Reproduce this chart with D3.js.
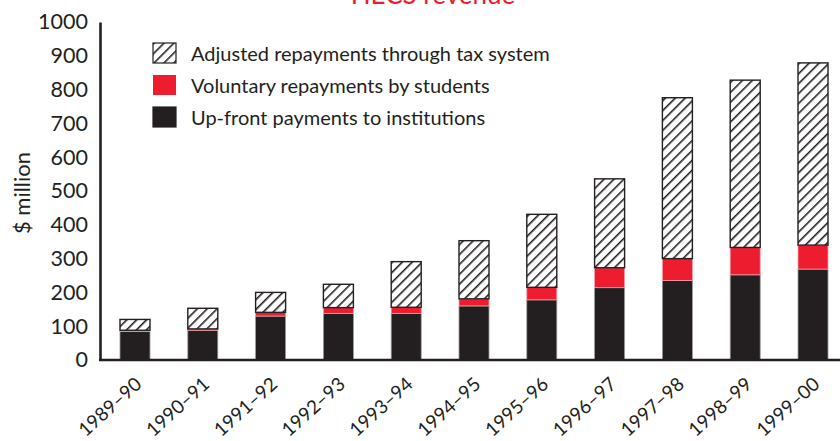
<!DOCTYPE html>
<html>

<head>
  <title>HECS repayments</title>
</head>

<body>

  <svg id="svg" width="840" height="441"></svg>

  <script src="https://d3js.org/d3.v7.min.js"></script>
  <script>
    const years = ['1989–90', '1990–91', '1991–92', '1992–93', '1993–94', '1994–95',
      '1995–96', '1996–97', '1997–98', '1998–99', '1999–00']
    // $ million
    const upfront = [84, 88, 130, 138, 138, 160, 178, 214, 235, 252, 269]
    const voluntary = [4, 4, 11, 17, 18, 21, 37, 59, 65, 81, 71]
    const taxSystem = [32, 61, 59, 69, 135, 172, 216, 263, 476, 495, 539]
    const yTicks = [0, 100, 200, 300, 400, 500, 600, 700, 800, 900, 1000]
    const legendLabels = ['Adjusted repayments through tax system',
      'Voluntary repayments by students', 'Up-front payments to institutions']

    const ink = '#231f20'
    const red = '#ed1c2e'

    const svg = d3.select('#svg')
    const font = 'Lato, "Open Sans", sans-serif'

    // hatch pattern
    const defs = svg.append('defs')
    const pat = defs.append('pattern')
      .attr('id', 'hatch')
      .attr('patternUnits', 'userSpaceOnUse')
      .attr('width', 7).attr('height', 7)
      .attr('patternTransform', 'rotate(45)')
    pat.append('rect').attr('width', 7).attr('height', 7).attr('fill', 'white')
    pat.append('line')
      .attr('x1', 0).attr('y1', 0).attr('x2', 0).attr('y2', 7)
      .attr('stroke', ink).attr('stroke-width', 3.2)

    const data = years.map((y, i) => ({
      year: y, upfront: upfront[i], voluntary: voluntary[i], tax: taxSystem[i]
    }))
    const keys = ['upfront', 'voluntary', 'tax']
    const fills = { upfront: ink, voluntary: red, tax: 'url(#hatch)' }
    const strokes = { upfront: '#9a9a9a', voluntary: '#f5a0a8', tax: ink }

    const x = d3.scaleBand()
      .domain(years)
      .range([120, 828])
      .paddingInner(0.5575)
      .paddingOuter(0)

    const y = d3.scaleLinear()
      .domain([0, 1000])
      .range([360, 22])

    const stacked = d3.stack().keys(keys)(data)

    svg.append('g')
      .selectAll('g')
      .data(stacked)
      .join('g')
      .attr('fill', d => fills[d.key])
      .attr('stroke', d => strokes[d.key])
      .attr('stroke-width', d => d.key === 'tax' ? 1.4 : 0.8)
      .selectAll('rect')
      .data(d => d)
      .join('rect')
      .attr('x', d => x(d.data.year))
      .attr('width', x.bandwidth())
      .attr('y', d => y(d[1]))
      .attr('height', d => y(d[0]) - y(d[1]))

    // axes
    const yAxis = svg.append('g')
      .attr('transform', 'translate(100,0)')
      .call(d3.axisLeft(y).tickValues(yTicks).tickFormat(d3.format('d')).tickSize(0).tickPadding(12))
    yAxis.select('.domain').attr('stroke', ink).attr('stroke-width', 2.6)
    yAxis.selectAll('text')
      .attr('font-family', font).attr('font-size', 21.5).attr('fill', ink)

    svg.append('line')
      .attr('x1', 99).attr('x2', 840)
      .attr('y1', y(0)).attr('y2', y(0))
      .attr('stroke', ink).attr('stroke-width', 2.6)

    svg.append('g')
      .selectAll('text')
      .data(years)
      .join('text')
      .attr('transform', d => `translate(${x(d) + x.bandwidth() / 2 + 8},386) rotate(-42)`)
      .attr('text-anchor', 'end')
      .attr('font-family', font)
      .attr('font-size', 19)
      .attr('fill', ink)
      .text(d => d)

    // y axis title
    svg.append('text')
      .attr('transform', 'translate(30,193) rotate(-90)')
      .attr('text-anchor', 'middle')
      .attr('font-family', font)
      .attr('font-size', 22)
      .attr('fill', ink)
      .text('$ million')

    // title, cut off by the top edge
    svg.append('text')
      .attr('x', 433).attr('y', 4)
      .attr('text-anchor', 'middle')
      .attr('font-family', font)
      .attr('font-size', 26)
      .attr('fill', red)
      .text('HECS revenue')

    // legend
    const legendFills = ['url(#hatch)', red, ink]
    const legend = svg.append('g')
      .selectAll('g')
      .data(legendLabels)
      .join('g')
      .attr('transform', (d, i) => `translate(153,${43 + i * 32})`)
    legend.append('rect')
      .attr('width', 23).attr('height', 20)
      .attr('fill', (d, i) => legendFills[i])
      .attr('stroke', (d, i) => i === 1 ? 'none' : ink)
      .attr('stroke-width', 1.2)
    legend.append('text')
      .attr('x', 38).attr('y', 18)
      .attr('font-family', font)
      .attr('font-size', 20)
      .attr('fill', ink)
      .text(d => d)
  </script>
</body>

<style>
  body,
  html {
    margin: 0;
    padding: 0;
    background: white;
  }

  #svg {
    display: block;
  }
</style>

</html>
